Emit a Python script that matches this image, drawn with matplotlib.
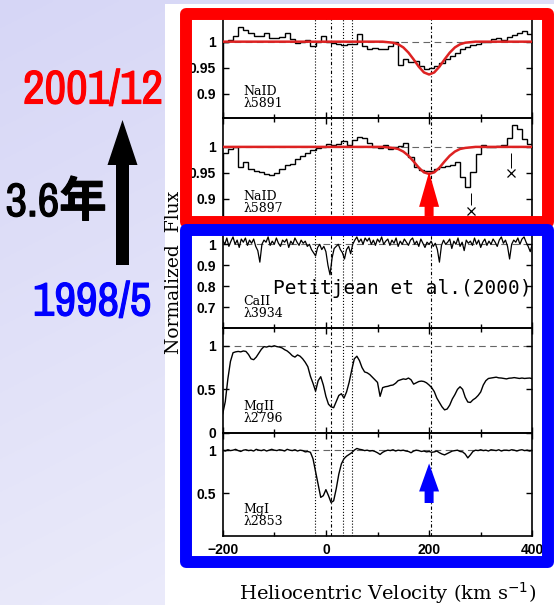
import numpy as np
import matplotlib
matplotlib.use("Agg")
import matplotlib.pyplot as plt
import matplotlib.patheffects as pe
from matplotlib.patches import Rectangle, Polygon

# --- spectra (velocity in km/s, normalized flux) ---
na_edges = np.arange(-200, 401, 10)

nad5891 = [0.999, 1.003, 1.010, 1.029, 1.022, 1.016, 1.010, 1.010, 1.016, 1.007,
           1.008, 1.009, 1.016, 1.005, 0.997, 1.000, 1.004, 0.991, 1.000, 1.010,
           1.000, 0.997, 0.996, 0.994, 0.996, 0.996, 1.015, 0.991, 0.985, 0.988,
           0.985, 0.986, 0.991, 0.999, 0.956, 0.967, 0.961, 0.963, 0.954, 0.948,
           0.950, 0.954, 0.959, 0.966, 0.972, 0.978, 0.985, 0.990, 0.993, 0.996,
           0.999, 1.000, 1.005, 1.007, 1.004, 1.009, 1.013, 1.016, 1.020, 1.015]

nad5897 = [0.989, 0.996, 0.999, 0.961, 0.970, 0.958, 0.954, 0.951, 0.948, 0.945,
           0.949, 0.958, 0.966, 0.968, 0.977, 0.983, 0.989, 0.994, 0.997, 1.000,
           1.005, 1.004, 1.006, 1.011, 1.004, 1.013, 1.019, 1.018, 1.008, 0.999,
           0.997, 1.004, 0.996, 0.999, 1.002, 1.008, 0.980, 0.962, 0.956, 0.953,
           0.953, 0.958, 0.961, 0.964, 0.966, 0.970, 0.942, 0.923, 0.951, 0.986,
           1.004, 1.000, 0.999, 1.002, 1.004, 1.018, 1.043, 1.034, 1.015, 1.006]

# single-component fits to the 2001/12 NaD profiles
fit_vel = [-200, 110, 120, 130, 140, 150, 160, 170, 180, 190, 200,
           210, 220, 230, 240, 250, 260, 270, 280, 290, 400]
fit5891 = [1.0, 1.0, 0.999, 0.998, 0.995, 0.989, 0.979, 0.966, 0.952, 0.941, 0.937,
           0.941, 0.952, 0.966, 0.979, 0.989, 0.995, 0.998, 0.999, 1.0, 1.0]
fit5897 = [1.0, 1.0, 0.999, 0.998, 0.996, 0.991, 0.983, 0.972, 0.960, 0.951, 0.948,
           0.951, 0.960, 0.972, 0.983, 0.991, 0.996, 0.998, 0.999, 1.0, 1.0]

# blends marked with crosses in NaD 5897
blend_vel = [281, 359]
blend_top = [0.912, 0.989]
blend_bot = [0.888, 0.960]
blend_mark = [0.877, 0.950]

ca_vel = np.arange(-200, 401, 4)
caii3934 = [1.020, 1.000, 1.030, 0.990, 1.015, 1.035, 1.000, 1.020, 0.985, 1.025,
            1.010, 1.030, 0.995, 1.020, 1.005, 1.025, 0.990, 0.970, 0.915, 1.000,
            1.020, 1.010, 1.035, 0.995, 1.015, 1.000, 1.030, 1.005, 0.990, 1.020,
            1.010, 1.025, 0.985, 1.015, 1.000, 1.030, 1.010, 0.995, 1.020, 1.005,
            1.015, 0.990, 1.000, 0.975, 0.960, 0.945, 0.985, 1.000, 0.975, 0.990,
            0.965, 0.900, 0.855, 0.935, 0.980, 0.990, 1.000, 0.975, 0.960, 0.930,
            0.975, 0.990, 0.955, 1.000, 1.020, 1.035, 1.010, 1.025, 1.000, 1.030,
            1.015, 1.030, 1.000, 1.020, 0.995, 1.025, 1.010, 1.035, 1.000, 1.015,
            1.025, 0.995, 1.020, 1.005, 1.030, 0.990, 1.015, 1.000, 1.025, 1.010,
            0.995, 1.020, 1.030, 1.000, 1.015, 0.990, 1.025, 1.005, 0.985, 1.010,
            1.000, 1.015, 0.990, 1.005, 0.975, 0.915, 0.995, 1.020, 1.000, 1.010,
            1.025, 0.980, 1.015, 1.000, 1.030, 0.990, 1.010, 0.970, 1.020, 1.005,
            1.015, 0.995, 1.030, 1.000, 1.020, 0.985, 1.010, 1.025, 0.995, 1.015,
            1.000, 1.025, 1.010, 0.990, 1.020, 1.035, 1.005, 1.020, 0.990, 0.930,
            1.000, 1.020, 1.010, 1.030, 1.000, 1.025, 1.035, 1.010, 0.990, 0.965,
            1.000]

mg_vel = np.arange(-200, 401, 5)
mgii2796 = [0.220, 0.360, 0.620, 0.820, 0.920, 0.930, 0.935, 0.930, 0.940, 0.935,
            0.900, 0.850, 0.840, 0.870, 0.915, 0.960, 0.990, 0.985, 0.995, 0.990,
            1.000, 0.990, 0.985, 0.975, 0.955, 0.940, 0.915, 0.885, 0.870, 0.895,
            0.880, 0.850, 0.810, 0.760, 0.650, 0.570, 0.480, 0.600, 0.645, 0.550,
            0.420, 0.330, 0.300, 0.290, 0.360, 0.430, 0.450, 0.400, 0.470, 0.580,
            0.720, 0.850, 0.880, 0.830, 0.750, 0.700, 0.690, 0.670, 0.640, 0.610,
            0.580, 0.420, 0.520, 0.530, 0.535, 0.545, 0.550, 0.570, 0.600, 0.610,
            0.620, 0.615, 0.630, 0.610, 0.560, 0.575, 0.590, 0.595, 0.590, 0.575,
            0.550, 0.520, 0.475, 0.400, 0.350, 0.300, 0.265, 0.275, 0.320, 0.390,
            0.440, 0.500, 0.530, 0.500, 0.410, 0.355, 0.350, 0.380, 0.400, 0.430,
            0.470, 0.550, 0.600, 0.625, 0.630, 0.635, 0.640, 0.632, 0.630, 0.625,
            0.620, 0.628, 0.630, 0.635, 0.630, 0.625, 0.630, 0.625, 0.628, 0.630,
            0.622]

mgi2853 = [1.000, 0.990, 1.005, 0.995, 1.000, 1.010, 0.995, 0.985, 1.000, 1.005,
           0.995, 1.000, 0.990, 1.010, 1.000, 0.995, 1.005, 0.990, 1.000, 1.010,
           1.000, 0.995, 1.005, 1.000, 0.990, 1.010, 1.000, 0.995, 1.005, 0.990,
           1.000, 0.995, 0.980, 0.985, 0.975, 0.900, 0.750, 0.600, 0.450, 0.470,
           0.540, 0.470, 0.390, 0.410, 0.550, 0.720, 0.840, 0.900, 0.930, 0.950,
           0.970, 1.000, 1.020, 1.010, 1.005, 0.995, 1.000, 0.990, 0.995, 0.985,
           0.970, 0.950, 0.975, 0.990, 1.000, 0.995, 1.005, 0.990, 1.000, 0.995,
           1.000, 0.990, 0.985, 0.970, 0.990, 1.000, 0.995, 0.985, 0.990, 0.980,
           0.985, 0.975, 0.980, 0.990, 0.970, 0.955, 0.945, 0.960, 0.975, 0.990,
           0.995, 1.000, 0.985, 0.980, 0.955, 0.910, 0.945, 0.985, 1.000, 0.995,
           1.005, 0.995, 1.000, 0.990, 1.005, 1.000, 0.995, 1.005, 0.990, 1.000,
           1.000, 0.995, 1.005, 1.000, 0.990, 1.000, 1.005, 0.995, 1.000, 0.990,
           1.000]

# velocities of the absorption components (dotted markers)
comp_vel = [-21, 10, 33, 50, 203]
comp_style = [":", (0, (3, 2, 1, 2)), ":", ":", (0, (3, 2, 1, 2))]

labels = ["NaID\nλ5891", "NaID\nλ5897", "CaII\nλ3934", "MgII\nλ2796", "MgI\nλ2853"]
ylims = [(0.853, 1.055), (0.853, 1.055), (0.6, 1.1), (0.0, 1.2), (0.0, 1.2)]
yticks = [[0.9, 0.95, 1.0], [0.9, 0.95, 1.0], [0.7, 0.8, 0.9, 1.0], [0, 0.5, 1.0], [0.5, 1.0]]
yticklabels = [["0.9", "0.95", "1"], ["0.9", "0.95", "1"], ["0.7", "0.8", "0.9", "1"],
               ["0", "0.5", "1"], ["0.5", "1"]]

W, H = 554, 605
fig = plt.figure(figsize=(W / 100, H / 100), dpi=100)

# slide background
bg = fig.add_axes([0, 0, 1, 1])
bg.set_xlim(0, W)
bg.set_ylim(H, 0)
bg.set_axis_off()
yy, xx = np.mgrid[0:1:200j, 0:1:200j]
t = np.clip(0.75 * yy + 0.35 * xx, 0, 1)[..., None]
c0 = np.array([0.84, 0.84, 0.965])
c1 = np.array([0.935, 0.935, 0.985])
bg.imshow(c0 * (1 - t) + c1 * t, extent=(0, W, H, 0), aspect="auto")
bg.add_patch(Rectangle((165, 4), W - 165, H - 4, facecolor="white", edgecolor="none"))

# panel geometry in pixels
left_px, right_px = 222.7, 532.3
edges_px = [13.0, 118.3, 223.3, 328.3, 433.0, 536.0]

axes = []
for i in range(5):
    top, bot = edges_px[i], edges_px[i + 1]
    ax = fig.add_axes([left_px / W, 1 - bot / H, (right_px - left_px) / W, (bot - top) / H])
    ax.set_facecolor("none")
    ax.set_xlim(-200, 400)
    ax.set_ylim(*ylims[i])
    ax.set_xticks([-200, 0, 200, 400])
    ax.set_xticks([-100, 100, 300], minor=True)
    ax.set_yticks(yticks[i], yticklabels[i])
    ax.tick_params(which="both", direction="in", top=True, right=True, width=1.0,
                   labelsize=10, pad=5)
    ax.tick_params(which="major", axis="x", length=4)
    ax.tick_params(which="minor", axis="x", length=3)
    ax.tick_params(axis="y", length=4)
    for lab in ax.get_yticklabels() + ax.get_xticklabels():
        lab.set_fontfamily("Liberation Sans")
        lab.set_fontweight("bold")
    if i < 4:
        ax.tick_params(labelbottom=False)
    for s in ax.spines.values():
        s.set_linewidth(1.2)
    ax.axhline(1.0, color="#666666", lw=0.8, ls=(0, (6, 4)), zorder=1)
    for v, st in zip(comp_vel, comp_style):
        ax.axvline(v, color="black", lw=0.8, ls=st, zorder=1)
    ax.text(0.066, 0.075, labels[i], transform=ax.transAxes, fontsize=9,
            family="DejaVu Serif", linespacing=0.9, va="bottom", ha="left")
    axes.append(ax)

ax1, ax2, ax3, ax4, ax5 = axes
ax1.stairs(nad5891, na_edges, color="black", lw=1.0, zorder=2)
ax1.plot(fit_vel, fit5891, color="#dd2222", lw=1.8, zorder=3)
ax2.stairs(nad5897, na_edges, color="black", lw=1.0, zorder=2)
ax2.plot(fit_vel, fit5897, color="#dd2222", lw=1.8, zorder=3)
ax2.vlines(blend_vel, blend_bot, blend_top, color="black", lw=0.7, clip_on=False)
ax2.plot(blend_vel, blend_mark, ls="none", marker="x", ms=6, mew=0.9, color="black",
         clip_on=False)
ax3.plot(ca_vel, caii3934, color="black", lw=0.9, zorder=2)
ax4.plot(mg_vel, mgii2796, color="black", lw=1.0, zorder=2)
ax5.plot(mg_vel, mgi2853, color="black", lw=1.0, zorder=2)

fig.text(174 / W, 1 - 272 / H, "Normalized  Flux", rotation=90, ha="center", va="center",
         family="DejaVu Serif", fontsize=13.5)
fig.text(388 / W, 1 - 593 / H, r"Heliocentric Velocity (km s$^{-1}$)", ha="center",
         va="center", family="DejaVu Serif", fontsize=14)

# overlay: frames, arrows and slide text
ov = fig.add_axes([0, 0, 1, 1], zorder=10)
ov.set_xlim(0, W)
ov.set_ylim(H, 0)
ov.set_axis_off()

ov.text(273, 294, "Petitjean et al.(2000)", family="DejaVu Sans Mono", fontsize=14,
        ha="left", va="baseline", color="black")

ov.add_patch(Rectangle((186, 14), 362, 208, fill=False, edgecolor="#ff0000",
                       lw=8.6, joinstyle="round"))
ov.add_patch(Rectangle((186, 230), 362, 332, fill=False, edgecolor="#0000ff",
                       lw=8.6, joinstyle="round"))


def up_arrow(ax_, xc, ytip, head_len, head_half, shaft_half, ybot, color):
    pts = [(xc, ytip), (xc + head_half, ytip + head_len), (xc + shaft_half, ytip + head_len),
           (xc + shaft_half, ybot), (xc - shaft_half, ybot), (xc - shaft_half, ytip + head_len),
           (xc - head_half, ytip + head_len)]
    ax_.add_patch(Polygon(pts, closed=True, facecolor=color, edgecolor="none"))


def to_overlay(ax_, v, f):
    x, y = ax_.transData.transform((v, f))
    return x, H - y


fig.canvas.draw()
xr, yr = to_overlay(ax2, 200, 0.952)
up_arrow(ov, xr, yr, 35, 10, 4.5, 216, "#ff0000")
xb, yb = to_overlay(ax5, 200, 0.845)
up_arrow(ov, xb, yb, 28, 10, 4.5, 503, "#0000ff")
up_arrow(ov, 122.5, 120, 45, 15, 6.5, 265, "black")

# heavy condensed lettering for the epochs
narrow = ["Archivo Narrow", "Noto Sans CJK JP"]
for x, y, s, c in [(93, 90, "2001/12", "#ff0000"), (56, 202, "3.6年", "black"),
                   (92, 302, "1998/5", "#0000ff")]:
    ov.text(x, y, s, family=narrow, fontweight="bold", fontsize=34, color=c,
            ha="center", va="center",
            path_effects=[pe.withStroke(linewidth=0.8, foreground=c)])

fig.savefig("out.png", dpi=100)
